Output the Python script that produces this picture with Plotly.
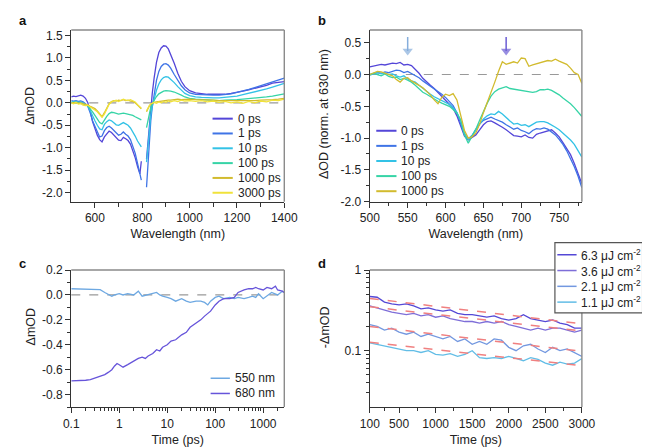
import plotly.graph_objects as go

FONT = "Liberation Sans, Arial, sans-serif"
W, H = 650, 447

# ---------------- Panel a data ----------------
wl_a = [500, 510, 520, 530, 540, 550, 560, 570, 580, 590, 600, 610, 620, 630, 640, 650, 660, 670,
        680, 690, 700, 710, 720, 730, 740, 750, 760, 770, 780, 790, 796, None,
        818, 824, 830, 836, 842, 850, 860, 870, 880, 890, 900, 910, 920, 935, 950, 965, 980, 1000,
        1025, 1050, 1075, 1100, 1125, 1150, 1175, 1200, 1225, 1250, 1275, 1300, 1325, 1350, 1375, 1400]
a_0ps = [0.13, 0.15, 0.14, 0.16, 0.17, 0.15, 0.10, 0.0, -0.18, -0.42, -0.58, -0.72, -0.82, -0.87, -0.76, -0.68, -0.63, -0.66,
         -0.72, -0.78, -0.83, -0.84, -0.77, -0.80, -0.84, -0.92, -1.05, -1.22, -1.42, -1.58, -1.30, None,
         -1.25, -0.85, -0.45, -0.10, 0.20, 0.55, 0.90, 1.12, 1.22, 1.27, 1.26, 1.20, 1.08, 0.88, 0.66, 0.48, 0.36, 0.27,
         0.22, 0.20, 0.19, 0.19, 0.19, 0.19, 0.21, 0.23, 0.26, 0.29, 0.32, 0.35, 0.39, 0.44, 0.46, 0.47]
a_1ps = [0.05, 0.04, 0.05, 0.03, 0.04, 0.02, -0.02, -0.08, -0.22, -0.40, -0.52, -0.65, -0.76, -0.74, -0.62, -0.55, -0.52, -0.56,
         -0.62, -0.68, -0.72, -0.70, -0.65, -0.70, -0.74, -0.82, -0.95, -1.12, -1.35, -1.60, -1.72, None,
         -1.88, -1.30, -0.80, -0.40, -0.10, 0.20, 0.50, 0.70, 0.81, 0.86, 0.87, 0.84, 0.77, 0.63, 0.50, 0.38, 0.29, 0.22,
         0.19, 0.18, 0.17, 0.17, 0.17, 0.18, 0.20, 0.23, 0.26, 0.30, 0.34, 0.38, 0.42, 0.47, 0.50, 0.55]
a_10ps = [0.02, 0.02, 0.03, 0.01, 0.02, 0.0, -0.03, -0.07, -0.17, -0.30, -0.40, -0.50, -0.58, -0.60, -0.48, -0.42, -0.38, -0.40,
          -0.45, -0.49, -0.50, -0.47, -0.44, -0.47, -0.50, -0.56, -0.64, -0.74, -0.85, -0.95, -0.98, None,
          -1.32, -0.90, -0.55, -0.28, -0.08, 0.10, 0.28, 0.42, 0.51, 0.56, 0.58, 0.57, 0.53, 0.45, 0.36, 0.28, 0.21, 0.16,
          0.13, 0.12, 0.11, 0.11, 0.11, 0.12, 0.13, 0.15, 0.18, 0.21, 0.24, 0.28, 0.31, 0.35, 0.39, 0.43]
a_100ps = [0.0, 0.01, 0.0, 0.01, -0.01, -0.02, -0.04, -0.07, -0.13, -0.20, -0.28, -0.36, -0.44, -0.47, -0.38, -0.30, -0.24, -0.21,
           -0.22, -0.24, -0.25, -0.24, -0.23, -0.24, -0.25, -0.26, -0.28, -0.31, -0.34, -0.37, -0.38, None,
           -0.55, -0.38, -0.22, -0.10, -0.02, 0.06, 0.14, 0.20, 0.24, 0.26, 0.27, 0.27, 0.26, 0.24, 0.21, 0.17, 0.13, 0.10,
           0.08, 0.07, 0.06, 0.05, 0.05, 0.06, 0.06, 0.07, 0.08, 0.09, 0.10, 0.11, 0.13, 0.15, 0.17, 0.20]
a_1000ps = [0.0, 0.0, 0.01, -0.01, 0.0, -0.02, -0.03, -0.05, -0.08, -0.10, -0.13, -0.18, -0.24, -0.31, -0.22, -0.10, -0.02, 0.03,
            0.05, 0.04, 0.06, 0.05, 0.07, 0.05, 0.06, 0.04, 0.03, 0.0, -0.05, -0.10, -0.13, None,
            -0.20, -0.12, -0.07, -0.03, -0.01, 0.01, 0.02, 0.03, 0.04, 0.05, 0.05, 0.06, 0.06, 0.07, 0.08, 0.07, 0.08, 0.08,
            0.07, 0.07, 0.06, 0.06, 0.05, 0.05, 0.04, 0.04, 0.04, 0.05, 0.05, 0.06, 0.06, 0.07, 0.08, 0.10]
a_3000ps = [0.0, -0.02, 0.01, -0.03, -0.02, -0.05, -0.06, -0.05, -0.09, -0.12, -0.16, -0.20, -0.26, -0.32, -0.25, -0.12, -0.03, 0.02,
            0.04, 0.06, 0.03, 0.06, 0.08, 0.06, 0.05, 0.07, 0.04, 0.02, -0.04, -0.09, -0.12, None,
            -0.18, -0.10, -0.06, -0.02, 0.0, 0.01, -0.01, 0.02, 0.0, 0.03, 0.01, 0.04, 0.02, 0.05, 0.03, 0.06, 0.04, 0.05,
            0.03, 0.05, 0.02, 0.04, 0.01, 0.03, 0.0, 0.02, -0.01, 0.03, 0.0, 0.04, 0.02, 0.06, 0.05, 0.08]
a_names = ["0 ps", "1 ps", "10 ps", "100 ps", "1000 ps", "3000 ps"]
a_colors = ["#5446D8", "#3F74E6", "#33C2E6", "#36D4A6", "#D2BB2E", "#F0E23A"]

# ---------------- Panel b data ----------------
wl_b = list(range(500, 781, 5))
b_0ps = [0.12, 0.13, 0.15, 0.16, 0.15, 0.17, 0.18, 0.17, 0.19, 0.15, 0.16, 0.14, 0.08, 0.02, -0.06, -0.12, -0.17, -0.22,
         -0.28, -0.34, -0.40, -0.46, -0.53, -0.65, -0.80, -0.97, -1.03, -0.99, -0.95, -0.87, -0.79, -0.74, -0.73,
         -0.76, -0.79, -0.83, -0.87, -0.92, -0.96, -0.97, -0.98, -0.95, -0.99, -1.00, -0.94, -0.92, -0.90, -0.88,
         -0.87, -0.92, -0.98, -1.07, -1.16, -1.26, -1.40, -1.55, -1.72]
b_1ps = [0.0, 0.02, 0.03, 0.02, 0.04, 0.03, 0.05, 0.07, 0.06, 0.03, 0.05, 0.02, -0.01, -0.05, -0.10, -0.14, -0.18, -0.22,
         -0.26, -0.31, -0.36, -0.42, -0.49, -0.60, -0.76, -0.95, -1.01, -0.96, -0.87, -0.78, -0.72, -0.69, -0.67,
         -0.70, -0.72, -0.75, -0.79, -0.83, -0.86, -0.84, -0.88, -0.90, -0.93, -0.88, -0.85, -0.86, -0.84, -0.86,
         -0.90, -0.95, -1.02, -1.10, -1.20, -1.32, -1.45, -1.60, -1.78]
b_10ps = [-0.01, 0.01, 0.03, 0.01, 0.02, 0.0, 0.01, -0.02, -0.04, -0.02, -0.07, -0.10, -0.12, -0.17, -0.22, -0.27, -0.31, -0.35,
          -0.38, -0.41, -0.43, -0.47, -0.52, -0.60, -0.72, -0.92, -1.02, -0.96, -0.86, -0.77, -0.70, -0.65, -0.62,
          -0.63, -0.58, -0.62, -0.68, -0.73, -0.78, -0.77, -0.80, -0.79, -0.82, -0.78, -0.75, -0.74, -0.74, -0.76,
          -0.79, -0.83, -0.87, -0.92, -0.97, -1.03, -1.10, -1.20, -1.30]
b_100ps = [0.0, 0.02, 0.0, -0.02, 0.01, -0.03, -0.05, -0.04, -0.08, -0.06, -0.09, -0.12, -0.17, -0.22, -0.28, -0.31, -0.35, -0.38,
           -0.42, -0.45, -0.47, -0.50, -0.55, -0.61, -0.72, -0.95, -1.08, -0.98, -0.86, -0.72, -0.58, -0.45, -0.34,
           -0.27, -0.23, -0.21, -0.19, -0.22, -0.23, -0.24, -0.25, -0.26, -0.26, -0.28, -0.27, -0.24, -0.24, -0.23,
           -0.25, -0.28, -0.32, -0.37, -0.41, -0.46, -0.52, -0.59, -0.66]
b_1000ps = [0.0, 0.03, 0.05, 0.04, 0.02, 0.0, -0.02, -0.08, -0.12, -0.06, -0.05, -0.10, -0.13, -0.17, -0.21, -0.26, -0.32, -0.40,
            -0.46, -0.36, -0.31, -0.33, -0.30, -0.40, -0.62, -0.88, -1.00, -0.98, -0.92, -0.78, -0.60, -0.45, -0.30,
            -0.12, 0.05, 0.20, 0.16, 0.18, 0.20, 0.18, 0.26, 0.25, 0.13, 0.15, 0.17, 0.19, 0.20, 0.22,
            0.21, 0.24, 0.21, 0.18, 0.16, 0.10, 0.03, 0.0, -0.14]
b_names = ["0 ps", "1 ps", "10 ps", "100 ps", "1000 ps"]
b_colors = a_colors[:5]
b_arrow_wl = [550, 680]
b_arrow_y = [0.59, 0.37]
b_arrow_colors = ["#86AEDC", "#6B5DD4"]

# ---------------- Panel c data ----------------
t_550 = [0.1, 0.15, 0.2, 0.3, 0.4, 0.5, 0.6, 0.7, 0.8, 1.0, 1.2, 1.5, 2.0, 2.5, 3.0, 4.0, 5.0, 6.0, 7.0, 8.0,
         10, 12, 15, 20, 25, 30, 40, 50, 60, 70, 80, 100, 120, 150, 200, 250, 300, 400, 500, 600, 700, 800,
         1000, 1200, 1500, 2000, 2500, 3000]
v_550 = [0.05, 0.048, 0.045, 0.04, 0.042, 0.02, 0.0, -0.01, 0.0, 0.01, 0.0, 0.01, 0.0, 0.03, -0.01, 0.0, 0.01, 0.02, 0.0, -0.01,
         -0.02, -0.03, -0.05, -0.03, -0.05, -0.06, -0.05, -0.05, -0.06, -0.08, -0.05, -0.02, -0.01, -0.03, -0.02, -0.03, -0.02,
         -0.03, -0.02, -0.01, -0.02, 0.01, -0.03, -0.01, 0.02, 0.0, 0.03, 0.01]
t_680 = [0.1, 0.15, 0.2, 0.25, 0.3, 0.4, 0.5, 0.6, 0.7, 0.8, 0.9, 1.0, 1.2, 1.5, 2.0, 2.5, 3.0, 3.5, 4.0, 5.0, 6.0, 7.0,
         8.0, 10, 12, 15, 20, 25, 30, 40, 50, 60, 70, 80, 100, 120, 150, 200, 250, 300, 400, 500, 600, 700, 800,
         1000, 1200, 1500, 1800, 2000, 2500, 3000]
v_680 = [-0.69, -0.69, -0.685, -0.68, -0.67, -0.65, -0.64, -0.62, -0.60, -0.57, -0.55, -0.56, -0.58, -0.56, -0.53, -0.51,
         -0.50, -0.51, -0.49, -0.47, -0.44, -0.45, -0.42, -0.40, -0.37, -0.36, -0.32, -0.30, -0.26, -0.23, -0.20, -0.17,
         -0.15, -0.13, -0.08, -0.05, -0.03, -0.03, -0.02, 0.02, 0.04, 0.05, 0.05, 0.06, 0.05, 0.04, 0.06, 0.05, 0.07,
         0.04, 0.03, 0.01]
c_names = ["550 nm", "680 nm"]
c_colors = ["#6DA8E2", "#6654DA"]

# ---------------- Panel d data ----------------
t_d = list(range(100, 3001, 100))
d_63 = [0.47, 0.46, 0.40, 0.38, 0.37, 0.38, 0.36, 0.33, 0.34, 0.32, 0.31, 0.32, 0.29, 0.28, 0.28, 0.27, 0.26, 0.27,
        0.25, 0.24, 0.25, 0.28, 0.25, 0.24, 0.23, 0.24, 0.22, 0.21, 0.19, 0.19]
d_36 = [0.36, 0.34, 0.32, 0.30, 0.29, 0.28, 0.29, 0.27, 0.28, 0.26, 0.27, 0.25, 0.24, 0.23, 0.23, 0.22, 0.23, 0.22,
        0.23, 0.21, 0.20, 0.19, 0.18, 0.19, 0.18, 0.19, 0.19, 0.18, 0.17, 0.18]
d_21 = [0.21, 0.20, 0.18, 0.19, 0.17, 0.16, 0.17, 0.15, 0.16, 0.15, 0.14, 0.15, 0.13, 0.14, 0.12, 0.13, 0.12, 0.14,
        0.135, 0.11, 0.10, 0.115, 0.12, 0.105, 0.095, 0.11, 0.10, 0.105, 0.095, 0.085]
d_11 = [0.125, 0.12, 0.115, 0.11, 0.105, 0.10, 0.10, 0.095, 0.10, 0.09, 0.088, 0.092, 0.085, 0.09, 0.10, 0.082, 0.08,
        0.082, 0.08, 0.085, 0.08, 0.075, 0.082, 0.078, 0.07, 0.066, 0.072, 0.068, 0.07, 0.08]
fit_t = [100, 3000]
fit_63 = [0.445, 0.215]
fit_36 = [0.35, 0.175]
fit_21 = [0.20, 0.098]
fit_11 = [0.127, 0.065]
d_names = ["6.3 μJ cm<sup>-2</sup>", "3.6 μJ cm<sup>-2</sup>", "2.1 μJ cm<sup>-2</sup>", "1.1 μJ cm<sup>-2</sup>"]
d_colors = ["#5448D6", "#7E6ED8", "#7398E0", "#62BDE6"]
fit_color = "#F08080"

# ---------------- Figure ----------------
fig = go.Figure()

for y, n, c in zip([a_0ps, a_1ps, a_10ps, a_100ps, a_1000ps, a_3000ps], a_names, a_colors):
    fig.add_trace(go.Scatter(x=wl_a, y=y, name=n, mode="lines", line=dict(color=c, width=1.3),
                             xaxis="x", yaxis="y", showlegend=False, connectgaps=False))
for y, n, c in zip([b_0ps, b_1ps, b_10ps, b_100ps, b_1000ps], b_names, b_colors):
    fig.add_trace(go.Scatter(x=wl_b, y=y, name=n, mode="lines", line=dict(color=c, width=1.3),
                             xaxis="x2", yaxis="y2", showlegend=False))
for wl, col in zip(b_arrow_wl, b_arrow_colors):
    fig.add_trace(go.Scatter(x=[wl, wl], y=b_arrow_y, mode="lines+markers", name=f"{wl} nm",
                             line=dict(color=col, width=1.5),
                             marker=dict(symbol="triangle-down", size=[0, 9], color=col, line=dict(width=0)),
                             xaxis="x2", yaxis="y2", showlegend=False, hoverinfo="skip"))
for (t, v), n, c in zip([(t_550, v_550), (t_680, v_680)], c_names, c_colors):
    fig.add_trace(go.Scatter(x=t, y=v, name=n, mode="lines", line=dict(color=c, width=1.3),
                             xaxis="x3", yaxis="y3", showlegend=False))
for y, fy, n, c in zip([d_63, d_36, d_21, d_11], [fit_63, fit_36, fit_21, fit_11], d_names, d_colors):
    fig.add_trace(go.Scatter(x=t_d, y=y, name=n, mode="lines", line=dict(color=c, width=1.3),
                             xaxis="x4", yaxis="y4", showlegend=False))
    fig.add_trace(go.Scatter(x=fit_t, y=fy, name=n + " fit", mode="lines",
                             line=dict(color=fit_color, width=1.5, dash="dash"),
                             xaxis="x4", yaxis="y4", showlegend=False))


def px(x):
    return x / W


def py(y):
    return 1 - y / H


AX = "#333333"
TXT = "#222222"
tickfont = dict(family=FONT, size=12, color=TXT)
titlefont = dict(family=FONT, size=12.5, color=TXT)


def axis(domain, anchor, title=None, **kw):
    d = dict(domain=domain, anchor=anchor, showline=True, linecolor=AX, linewidth=1.2,
             ticks="outside", ticklen=5, tickwidth=1, tickcolor=AX, showgrid=False, zeroline=False,
             tickfont=tickfont)
    if title:
        d["title"] = dict(text=title, font=titlefont, standoff=5)
    d.update(kw)
    return d


def fmt(v):
    return f"{v:.1f}"


a_yt = [1.5, 1.0, 0.5, 0.0, -0.5, -1.0, -1.5, -2.0]
b_yt = [0.5, 0.0, -0.5, -1.0, -1.5, -2.0]
c_yt = [0.2, 0.0, -0.2, -0.4, -0.6, -0.8]
c_xt = [0.1, 1, 10, 100, 1000]
c_xt_lbl = ["0.1", "1", "10", "100", "1000"]
c_minor = [m * 10 ** e for e in range(-1, 4) for m in range(2, 10) if m * 10 ** e <= 3000]
d_xt = [100, 500, 1000, 1500, 2000, 2500, 3000]
d_yt = [0.1, 1]
d_minor = [0.03, 0.04, 0.05, 0.06, 0.07, 0.08, 0.09, 0.2, 0.3, 0.4, 0.5, 0.6, 0.7, 0.8, 0.9]

xa_dom = [px(55.3), px(276.5)]
xb_dom = [px(365.3), px(585.5)]
ytop_dom = [py(192.7), py(15.5)]
ybot_dom = [py(404.7), py(263.3)]
mt = dict(ticklen=3, tickcolor=AX)

fig.update_layout(
    width=W, height=H, margin=dict(l=0, r=0, t=0, b=0),
    paper_bgcolor="white", plot_bgcolor="rgba(0,0,0,0)", showlegend=False,
    font=dict(family=FONT, size=12, color=TXT),
    xaxis=axis(xa_dom, "y", "Wavelength (nm)", range=[500, 1400],
               tickvals=[600, 800, 1000, 1200, 1400],
               minor=dict(tickvals=[700, 900, 1100, 1300], ticklen=4, tickcolor=AX)),
    yaxis=axis(ytop_dom, "x", range=[-2.2, 1.62], tickvals=a_yt, ticktext=[fmt(v) for v in a_yt],
               minor=dict(dtick=0.25, **mt)),
    xaxis2=axis(xb_dom, "y2", "Wavelength (nm)", range=[500, 780], tickvals=[500, 550, 600, 650, 700, 750],
                minor=dict(dtick=25, **mt)),
    yaxis2=axis(ytop_dom, "x2", range=[-2.0, 0.7], tickvals=b_yt,
                ticktext=[fmt(v) for v in b_yt], minor=dict(dtick=0.25, **mt)),
    xaxis3=axis(xa_dom, "y3", "Time (ps)", type="log", range=[-1, 3.44], tickvals=c_xt, ticktext=c_xt_lbl,
                minor=dict(tickvals=c_minor, **mt)),
    yaxis3=axis(ybot_dom, "x3", range=[-0.9, 0.2], tickvals=c_yt, ticktext=[fmt(v) for v in c_yt],
                minor=dict(dtick=0.1, **mt)),
    xaxis4=axis(xb_dom, "y4", "Time (ps)", range=[100, 3000], tickvals=d_xt,
                minor=dict(tickvals=[300, 750, 1250, 1750, 2250, 2750], **mt)),
    yaxis4=axis(ybot_dom, "x4", type="log", range=[-1.699, 0], tickvals=d_yt, ticktext=["0.1", "1"],
                minor=dict(tickvals=d_minor, **mt)),
)

shapes = []
annotations = []
# gray top/right frame lines and zero lines
for xs, ys in [("x", "y"), ("x2", "y2"), ("x3", "y3"), ("x4", "y4")]:
    shapes.append(dict(type="line", xref=f"{xs} domain", yref=f"{ys} domain", x0=0, x1=1, y0=1, y1=1,
                       line=dict(color="#8A8A8A", width=1.4), layer="above"))
    shapes.append(dict(type="line", xref=f"{xs} domain", yref=f"{ys} domain", x0=1, x1=1, y0=0, y1=1,
                       line=dict(color="#8A8A8A", width=1.4), layer="above"))
for xs, ys in [("x", "y"), ("x2", "y2"), ("x3", "y3")]:
    shapes.append(dict(type="line", xref=f"{xs} domain", yref=ys, x0=0, x1=1, y0=0, y1=0,
                       line=dict(color="#999999", width=1.2, dash="dash"), layer="below"))


def legend(names, colors, x0, x1, y0, dy, lw):
    for i, (n, c) in enumerate(zip(names, colors)):
        yy = y0 + i * dy
        shapes.append(dict(type="line", xref="paper", yref="paper", x0=px(x0), x1=px(x1), y0=py(yy), y1=py(yy),
                           line=dict(color=c, width=lw)))
        annotations.append(dict(x=px(x1 + 3), y=py(yy), xref="paper", yref="paper", text=n, showarrow=False,
                                xanchor="left", yanchor="middle", font=dict(family=FONT, size=12, color=TXT)))


# legend box for d
shapes.append(dict(type="rect", xref="paper", yref="paper", x0=px(557.5), x1=px(648.5), y0=py(307.5), y1=py(235),
                   line=dict(color="#555555", width=1.2), fillcolor="white", layer="above"))
legend(a_names, a_colors, 202, 223, 107, 15.3, 2)
legend(b_names, b_colors, 372, 393, 119.5, 15.6, 2)
legend(c_names, c_colors, 200, 220, 375, 15.7, 1.5)
legend(d_names, d_colors, 560, 580, 247.5, 16.3, 1.5)

# y-axis titles
for txt, x, y in [("ΔmOD", 13, 94), ("ΔOD (norm. at 630 nm)", 318, 102), ("ΔmOD", 13, 322), ("-ΔmOD", 319, 322)]:
    annotations.append(dict(x=px(x), y=py(y), xref="paper", yref="paper", text=txt, textangle=-90, showarrow=False,
                            xanchor="center", yanchor="middle", font=titlefont))

for lbl, x, y in [("a", 5, 6), ("b", 316, 6), ("c", 5, 256.5), ("d", 316, 256.5)]:
    annotations.append(dict(x=px(x), y=py(y), xref="paper", yref="paper", text=f"<b>{lbl}</b>", showarrow=False,
                            xanchor="center", yanchor="middle", font=dict(family=FONT, size=13, color="#111111")))

fig.update_layout(shapes=shapes, annotations=annotations)
fig.write_html("out.html")
